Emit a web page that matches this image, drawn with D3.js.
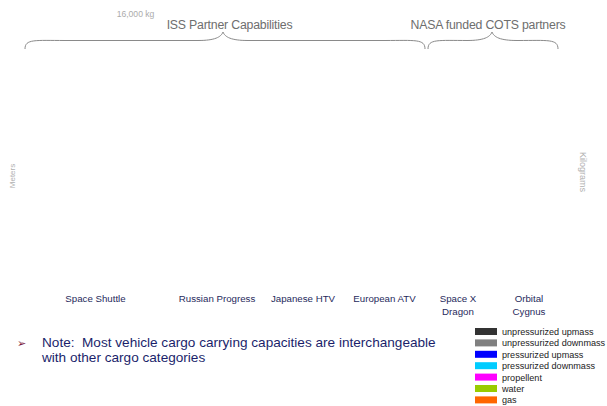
<!DOCTYPE html>
<html><head><meta charset="utf-8">
<script src="https://cdn.jsdelivr.net/npm/d3@7"></script>
<style>body{margin:0;background:#fff}svg{display:block;font-family:"Liberation Sans",Arial,sans-serif}</style>
</head><body><svg id="c" width="607" height="406"></svg>
<script>
const categories = ["Space Shuttle","Russian Progress","Japanese HTV","European ATV","Space X\nDragon","Orbital\nCygnus"];
const seriesNames = ["unpressurized upmass","unpressurized downmass","pressurized upmass","pressurized downmass","propellent","water","gas"];
const seriesColors = ["#333333","#808080","#0000ff","#00ccff","#ff00ff","#99cc00","#ff6600"];
// no bars are visible in the reference: every value reads as 0 kg
const unpressUp   = [0,0,0,0,0,0];
const unpressDown = [0,0,0,0,0,0];
const pressUp     = [0,0,0,0,0,0];
const pressDown   = [0,0,0,0,0,0];
const propellent  = [0,0,0,0,0,0];
const water       = [0,0,0,0,0,0];
const gas         = [0,0,0,0,0,0];
const yTickLabels = ["16,000 kg"];
const groups = [{name:"ISS Partner Capabilities", from:0, to:3},{name:"NASA funded COTS partners", from:4, to:5}];

const svg = d3.select("#c");
const x = d3.scaleOrdinal().domain(categories).range([95.5,217,303,384.5,458,529]);
const barW = 40;
const y = d3.scaleLinear().domain([0,16000]).range([285,13]);
const series = [unpressUp,unpressDown,pressUp,pressDown,propellent,water,gas];
const rows = categories.map((c,i)=>{const o={cat:c}; seriesNames.forEach((s,j)=>o[s]=series[j][i]); return o;});
const stack = d3.stack().keys(seriesNames)(rows);
svg.append("g").selectAll("g").data(stack).join("g").attr("fill",(d,i)=>seriesColors[i])
  .selectAll("rect").data(d=>d).join("rect")
  .attr("x",d=>x(d.data.cat)-barW/2).attr("width",barW)
  .attr("y",d=>y(d[1])).attr("height",d=>y(d[0])-y(d[1]));

// top tick label
svg.append("text").attr("x",135.5).attr("y",y(16000)+3.5).attr("text-anchor","middle")
  .attr("font-size",8.6).attr("fill","#ababab").text(yTickLabels[0]);

// axis titles
svg.append("text").attr("transform","translate(15,176) rotate(-90)").attr("text-anchor","middle")
  .attr("font-size",8).attr("fill","#b0b0b0").text("Meters");
svg.append("text").attr("transform","translate(580,172) rotate(90)").attr("text-anchor","middle")
  .attr("font-size",9).attr("fill","#b0b0b0").text("Kilograms");

// category labels
const cl = svg.append("g").selectAll("text").data(categories).join("text")
  .attr("x",d=>x(d)).attr("y",302).attr("text-anchor","middle").attr("font-size",9.7).attr("fill","#1f2a5c");
cl.each(function(d){const t=d3.select(this); d.split("\n").forEach((l,i)=>t.append("tspan").attr("x",x(d)).attr("dy",i?12.5:0).text(l));});

// braces
function brace(x1,x2,pk,yTop,yBot){
  const h=yBot-yTop, ym=yTop+h*0.5;
  return `M${x1},${yBot} C${x1},${yTop+h*0.4} ${x1+10},${ym} ${x1+40},${ym}`+
    ` L${pk-25},${ym} C${pk-8},${ym} ${pk-2},${yTop+h*0.3} ${pk},${yTop}`+
    ` C${pk+2},${yTop+h*0.3} ${pk+8},${ym} ${pk+25},${ym}`+
    ` L${x2-40},${ym} C${x2-10},${ym} ${x2},${yTop+h*0.4} ${x2},${yBot}`;
}
const gx = [[25,425,223],[428,558,492]];
const gc = [229.5,488];
groups.forEach((g,i)=>{
  const [a,b,p]=gx[i];
  svg.append("path").attr("d",brace(a,b,p,32,49)).attr("fill","none").attr("stroke","#8a8a8a").attr("stroke-width",1);
  svg.append("text").attr("x",gc[i]).attr("y",29).attr("text-anchor","middle")
    .attr("font-size",12.3).attr("fill","#6e6e6e").attr("letter-spacing",-0.2).text(g.name);
});

// note
svg.append("text").attr("x",17).attr("y",347).attr("font-size",11).attr("fill","#7a1a3a").text("➢");
const note = svg.append("text").attr("x",42).attr("y",347).attr("font-size",13.6).attr("fill","#1b1f6b").style("white-space","pre");
note.append("tspan").attr("x",42).text("Note:  Most vehicle cargo carrying capacities are interchangeable");
note.append("tspan").attr("x",42).attr("dy",15).text("with other cargo categories");

// legend
const lg = svg.append("g").selectAll("g").data(seriesNames).join("g")
  .attr("transform",(d,i)=>`translate(475,${328+i*11.4})`);
lg.append("rect").attr("width",22).attr("height",7).attr("fill",(d,i)=>seriesColors[i]);
lg.append("text").attr("x",27).attr("y",7).attr("font-size",9.1).attr("fill","#222").text(d=>d);
</script></body></html>
